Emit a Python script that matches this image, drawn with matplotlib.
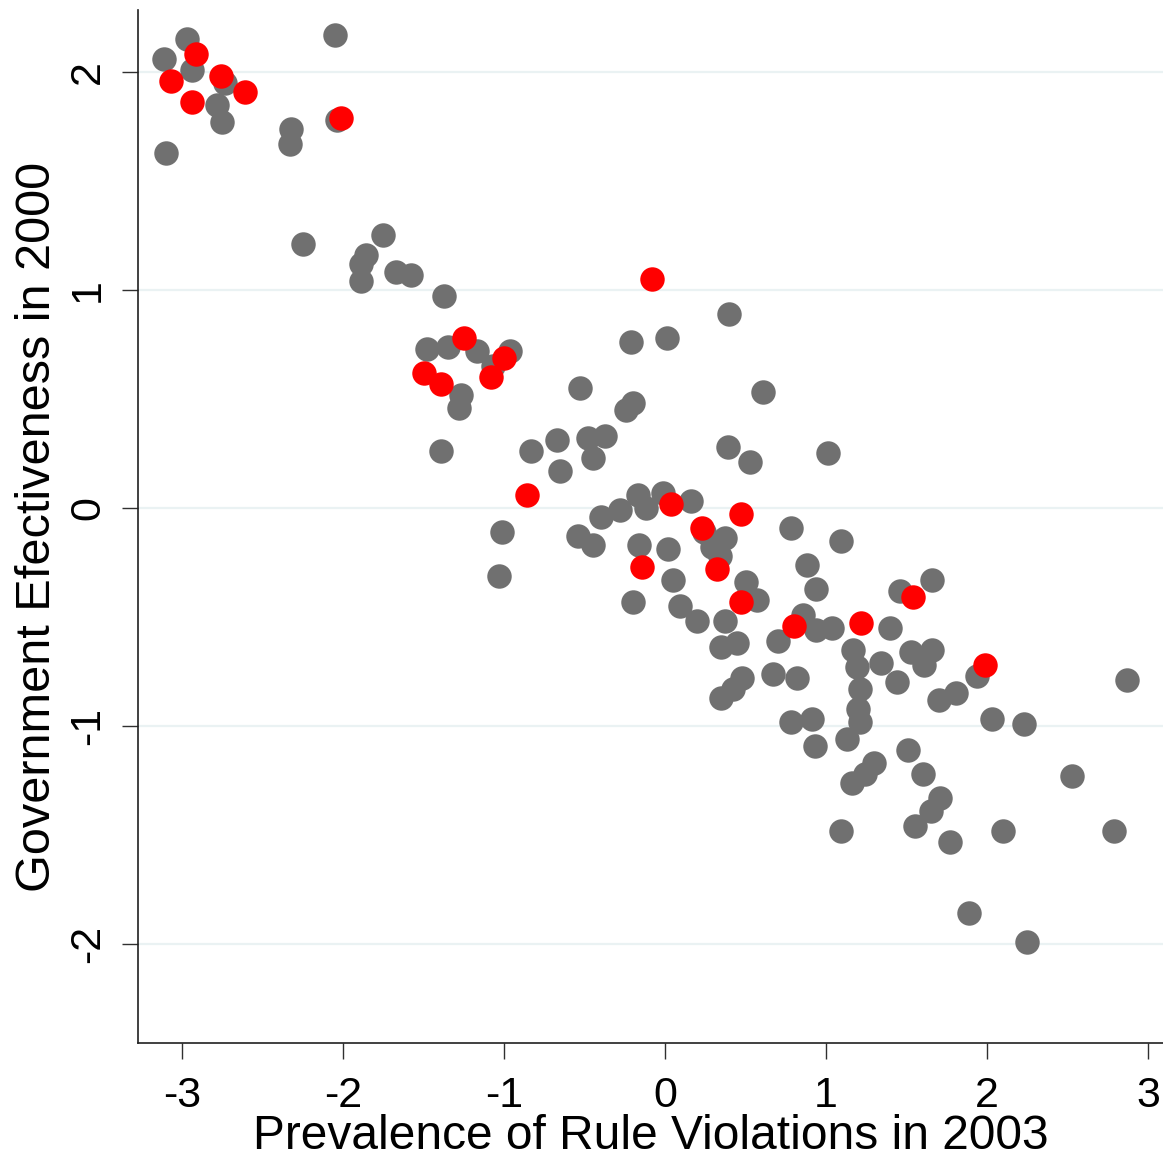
#!/usr/bin/env python3
import matplotlib
matplotlib.use("Agg")
import matplotlib.pyplot as plt

plt.rcParams['font.family'] = ['Liberation Sans', 'DejaVu Sans']

# rule violations (x) vs government effectiveness (y), other countries
rule_other = [
    -2.97, -3.11, -2.94, -2.73, -2.78, -2.75, -3.10, -2.05, -2.04, -2.32,
    -2.33, -2.25, -1.75, -1.86, -1.89, -1.89, -1.67, -1.58, -1.37, -1.48,
    -1.35, -1.17, -0.96, -1.07, -1.27, -1.28, -1.39, -0.21, 0.01, -0.53,
    -0.24, -0.20, -0.83, -0.67, -0.48, -0.37, -0.45, -0.65, 0.40, 0.61,
    0.39, 0.53, 1.01, -1.01, -1.03, -0.54, -0.45, -0.40, -0.28, -0.17,
    -0.12, -0.01, 0.16, 0.24, 0.37, 0.29, 0.34, 0.78, 1.09, -0.16,
    0.02, 0.05, 0.88, 0.94, -0.20, 0.09, 0.50, 0.57, 0.20, 0.37,
    0.45, 0.35, 0.48, 0.42, 0.35, 0.67, 0.82, 0.70, 0.86, 0.94,
    1.04, 1.17, 1.19, 1.21, 1.20, 1.21, 1.13, 1.34, 1.44, 1.40,
    1.46, 1.66, 1.53, 1.66, 1.61, 1.94, 2.87, 1.70, 1.81, 2.03,
    2.23, 0.78, 0.91, 0.93, 1.51, 1.60, 1.71, 1.65, 1.55, 1.77,
    1.30, 1.24, 1.16, 1.09, 2.10, 2.53, 2.79, 1.89, 2.25,
]
eff_other = [
    2.15, 2.06, 2.01, 1.95, 1.85, 1.77, 1.63, 2.17, 1.78, 1.74,
    1.67, 1.21, 1.25, 1.16, 1.12, 1.04, 1.08, 1.07, 0.97, 0.73,
    0.74, 0.72, 0.72, 0.65, 0.52, 0.46, 0.26, 0.76, 0.78, 0.55,
    0.45, 0.48, 0.26, 0.31, 0.32, 0.33, 0.23, 0.17, 0.89, 0.53,
    0.28, 0.21, 0.25, -0.11, -0.31, -0.13, -0.17, -0.04, -0.01, 0.06,
    0.00, 0.07, 0.03, -0.11, -0.14, -0.18, -0.22, -0.09, -0.15, -0.17,
    -0.19, -0.33, -0.26, -0.37, -0.43, -0.45, -0.34, -0.42, -0.52, -0.52,
    -0.62, -0.64, -0.78, -0.83, -0.87, -0.76, -0.78, -0.61, -0.49, -0.56,
    -0.55, -0.65, -0.73, -0.83, -0.92, -0.98, -1.06, -0.71, -0.80, -0.55,
    -0.38, -0.33, -0.66, -0.65, -0.72, -0.77, -0.79, -0.88, -0.85, -0.97,
    -0.99, -0.98, -0.97, -1.09, -1.11, -1.22, -1.33, -1.39, -1.46, -1.53,
    -1.17, -1.22, -1.26, -1.48, -1.48, -1.23, -1.48, -1.86, -1.99,
]

# highlighted countries
rule_hl = [
    -2.91, -3.07, -2.76, -2.61, -2.94, -2.01, -0.08, -1.25, -1.00, -1.50,
    -1.39, -1.08, -0.86, 0.04, 0.23, 0.47, -0.14, 0.32, 0.47, 0.80,
    1.22, 1.54, 1.99,
]
eff_hl = [
    2.08, 1.96, 1.98, 1.91, 1.86, 1.79, 1.05, 0.78, 0.69, 0.62,
    0.57, 0.60, 0.06, 0.02, -0.09, -0.03, -0.27, -0.28, -0.43, -0.54,
    -0.53, -0.41, -0.72,
]

xticks = [-3, -2, -1, 0, 1, 2, 3]
yticks = [-2, -1, 0, 1, 2]

fig = plt.figure(figsize=(11.63, 11.59), dpi=100)
ax = fig.add_axes([0.1187, 0.1001, 0.8813, 0.8913])

ax.scatter(rule_other, eff_other, s=310, color='#707070', linewidths=0, zorder=3)
ax.scatter(rule_hl, eff_hl, s=310, color='#ff0000', linewidths=0, zorder=4)

ax.set_xlim(-3.273, 3.093)
ax.set_ylim(-2.454, 2.284)

ax.set_xticks(xticks)
ax.set_yticks(yticks)
ax.set_xticklabels([str(t) for t in xticks], fontsize=31)
ax.set_yticklabels([str(t) for t in yticks], fontsize=31, rotation=90, va='center')

ax.yaxis.grid(True, color='#eaf2f3', linewidth=1.6, zorder=0)
ax.set_axisbelow(True)

for side in ['top', 'right']:
    ax.spines[side].set_visible(False)
for side in ['left', 'bottom']:
    ax.spines[side].set_linewidth(1.2)
    ax.spines[side].set_color('#202020')

ax.tick_params(axis='both', direction='out', length=11.5, width=1.0, color='#303030')
ax.tick_params(axis='x', pad=12)
ax.tick_params(axis='y', pad=10)

ax.set_xlabel('Prevalence of Rule Violations in 2003', fontsize=34.5, labelpad=-1)
ax.set_ylabel('Government Efectiveness in 2000', fontsize=35, labelpad=6)

fig.savefig('out.png', dpi=100, facecolor='white')
